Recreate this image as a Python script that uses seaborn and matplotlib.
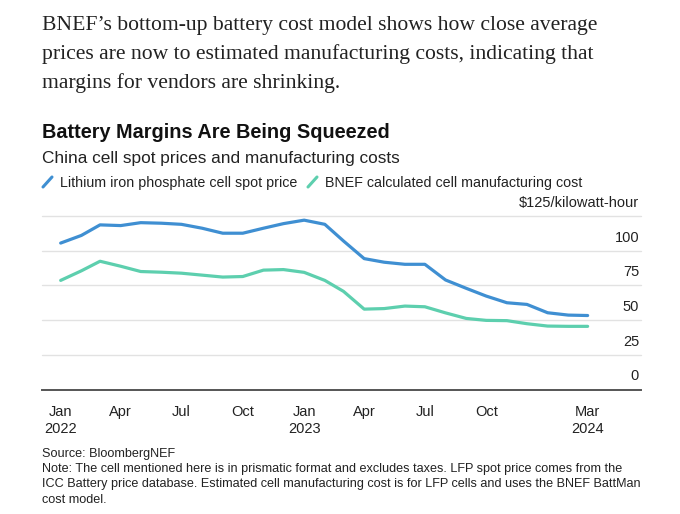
import numpy as np
import pandas as pd
import matplotlib
matplotlib.use("Agg")
import matplotlib.pyplot as plt
import matplotlib.transforms as mtransforms
from matplotlib.lines import Line2D
import seaborn as sns

# ---------------- data ----------------
months = pd.date_range("2022-01-01", periods=27, freq="MS")
lfp_spot_price = [105.5, 111.0, 118.6, 118.1, 120.2, 119.8, 119.0, 116.2, 112.6, 112.6,
                  116.2, 119.5, 122.0, 119.0, 107.0, 94.3, 91.7, 90.2, 90.2, 78.9,
                  72.9, 67.3, 62.5, 61.3, 55.3, 53.6, 53.3]
bnef_cost = [78.6, 85.5, 92.4, 88.8, 85.0, 84.5, 83.8, 82.4, 81.0, 81.4,
             86.0, 86.4, 84.4, 78.6, 70.7, 57.9, 58.3, 60.1, 59.6, 55.2,
             51.2, 49.8, 49.6, 47.4, 45.7, 45.5, 45.5]
series_names = ["Lithium iron phosphate cell spot price",
                "BNEF calculated cell manufacturing cost"]
series_colors = ["#3f8fd2", "#5dcfae"]
tick_dates = pd.to_datetime(["2022-01-01", "2022-04-01", "2022-07-01", "2022-10-01",
                             "2023-01-01", "2023-04-01", "2023-07-01", "2023-10-01",
                             "2024-03-01"])
tick_labels = ["Jan\n2022", "Apr", "Jul", "Oct", "Jan\n2023", "Apr", "Jul", "Oct", "Mar\n2024"]
y_ticks = [0, 25, 50, 75, 100, 125]
y_labels = ["0", "25", "50", "75", "100", "$125/kilowatt-hour"]

df = pd.DataFrame({
    "month": list(months) * 2,
    "value": lfp_spot_price + bnef_cost,
    "series": [series_names[0]] * len(months) + [series_names[1]] * len(months),
})

# ---------------- figure ----------------
sns.set_style("white")
plt.rcParams["font.family"] = ["Liberation Sans", "DejaVu Sans"]

W, H = 680, 514
fig = plt.figure(figsize=(W / 100, H / 100), dpi=100)
fig.patch.set_facecolor("white")

def fx(px):
    return px / W

def fy(py):
    return 1 - py / H

ax = fig.add_axes([fx(42), fy(389.5), fx(641) - fx(42), fy(216) - fy(389.5)])

sns.lineplot(data=df, x="month", y="value", hue="series", palette=series_colors,
             hue_order=series_names, linewidth=2.3, legend=False, ax=ax)

ax.set_ylim(0, 125)
ax.set_xlim(pd.Timestamp("2021-12-04"), pd.Timestamp("2024-05-20"))
ax.set_xlabel("")
ax.set_ylabel("")

for s in ["top", "right", "left"]:
    ax.spines[s].set_visible(False)
ax.spines["bottom"].set_color("#555555")
ax.spines["bottom"].set_linewidth(1.4)

ax.set_yticks(y_ticks)
ax.set_yticklabels([])
ax.tick_params(axis="y", length=0)
for v in y_ticks[1:]:
    ax.axhline(v, color="#e2e2e2", linewidth=1.0, zorder=0, clip_on=False)

trans = mtransforms.offset_copy(
    mtransforms.blended_transform_factory(ax.transAxes, ax.transData),
    fig=fig, x=-2, y=6, units="dots")
for v, lab in zip(y_ticks, y_labels):
    ax.text(1.0, v, lab, transform=trans, ha="right", va="bottom",
            fontsize=10.5, color="#222222")

ax.set_xticks(tick_dates)
ax.set_xticklabels(tick_labels, fontsize=10.5, color="#222222", linespacing=1.25)
ax.tick_params(axis="x", length=5, width=1.0, color="#555555", pad=6)

# ---------------- texts ----------------
header = ["BNEF\u2019s bottom-up battery cost model shows how close average",
          "prices are now to estimated manufacturing costs, indicating that",
          "margins for vendors are shrinking."]
for i, line in enumerate(header):
    fig.text(fx(42), fy(30 + 29 * i), line, fontsize=15.6, color="#222222",
             family=["Liberation Serif", "DejaVu Serif"], va="baseline", ha="left")

fig.text(fx(42), fy(138), "Battery Margins Are Being Squeezed", fontsize=14.3,
         fontweight="bold", color="#111111", va="baseline")
fig.text(fx(42), fy(162.5), "China cell spot prices and manufacturing costs",
         fontsize=12.4, color="#222222", va="baseline")

leg_x = [(43, 60), (308, 325)]
for (mx, tx), name, col in zip(leg_x, series_names, series_colors):
    fig.add_artist(Line2D([fx(mx), fx(mx + 9)], [fy(187), fy(177)],
                          color=col, linewidth=2.2, transform=fig.transFigure))
    fig.text(fx(tx), fy(187), name, fontsize=10.3, color="#222222", va="baseline")

footer = ["Source: BloombergNEF",
          "Note: The cell mentioned here is in prismatic format and excludes taxes. LFP spot price comes from the",
          "ICC Battery price database. Estimated cell manufacturing cost is for LFP cells and uses the BNEF BattMan",
          "cost model."]
for i, line in enumerate(footer):
    fig.text(fx(42), fy(457 + 15.2 * i), line, fontsize=9.1, color="#222222",
             va="baseline")

fig.savefig("out.png", dpi=100)
